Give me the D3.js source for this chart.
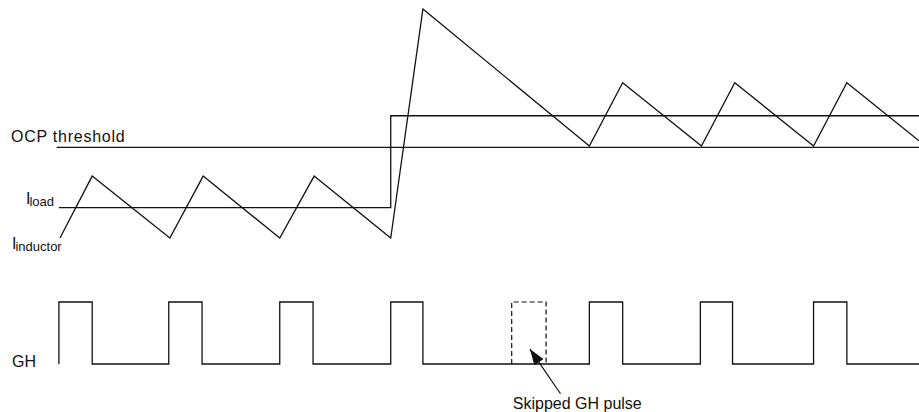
<!DOCTYPE html>
<html>
<head>
<meta charset="utf-8">
<script src="https://cdn.jsdelivr.net/npm/d3@7"></script>
<style>
  html, body { margin: 0; padding: 0; background: #fff; }
  svg { display: block; font-family: "Liberation Sans", Arial, Helvetica, sans-serif; }
</style>
</head>
<body>
<div id="chart"></div>
<script>
// time in us, current in A, GH as logic level
const inductorT = [0, 0.29, 0.99, 1.29, 1.98, 2.29, 2.98, 3.27, 4.77, 5.07, 5.78, 6.08, 6.79, 7.09, 7.74];
const inductorI = [4, 6, 4, 6, 4, 6, 4, 11.4, 6.97, 9.02, 6.97, 9.02, 6.97, 9.02, 7.14];

const loadT = [-0.01, 2.98, 2.98, 7.74];
const loadI = [4.98, 4.98, 7.95, 7.95];

const ocpT = [-0.03, 7.74];
const ocpLevel = 6.93;

const ghRise = [-0.01, 0.98, 1.98, 2.98, 4.77, 5.77, 6.79];
const ghFall = [0.29, 1.28, 2.28, 3.27, 5.07, 6.06, 7.09];
const ghEnd = 7.74;
const skippedPulse = [4.07, 4.38];

const width = 919, height = 412;

const svg = d3.select('#chart').append('svg')
  .attr('width', width)
  .attr('height', height);

const x = d3.scaleLinear().domain([0, 7.74]).range([60, 919]);
const yI = d3.scaleLinear().domain([4, 11.4]).range([238, 9]);
const yGH = d3.scaleLinear().domain([0, 1]).range([364, 302]);

const ink = '#111';
const line = d3.line().x(d => x(d[0])).y(d => d[1]);

// OCP threshold
svg.append('path')
  .attr('d', line(ocpT.map(t => [t, yI(ocpLevel)])))
  .attr('fill', 'none').attr('stroke', ink).attr('stroke-width', 1.3);

// Load current step
svg.append('path')
  .attr('d', line(loadT.map((t, i) => [t, yI(loadI[i])])))
  .attr('fill', 'none').attr('stroke', ink).attr('stroke-width', 1.3);

// Inductor current
svg.append('path')
  .attr('d', line(inductorT.map((t, i) => [t, yI(inductorI[i])])))
  .attr('fill', 'none').attr('stroke', ink).attr('stroke-width', 1.3)
  .attr('stroke-linejoin', 'miter');

// GH gate signal
const ghPts = [];
ghRise.forEach((r, i) => {
  ghPts.push([r, yGH(0)], [r, yGH(1)], [ghFall[i], yGH(1)], [ghFall[i], yGH(0)]);
});
ghPts.push([ghEnd, yGH(0)]);
svg.append('path')
  .attr('d', line(ghPts))
  .attr('fill', 'none').attr('stroke', ink).attr('stroke-width', 1.3);

// Skipped pulse (dashed)
svg.append('path')
  .attr('d', line([
    [skippedPulse[0], yGH(0)], [skippedPulse[0], yGH(1)],
    [skippedPulse[1], yGH(1)], [skippedPulse[1], yGH(0)]
  ]))
  .attr('fill', 'none').attr('stroke', ink).attr('stroke-width', 1.2)
  .attr('stroke-dasharray', '5,3');

// Arrow
svg.append('defs').append('marker')
  .attr('id', 'arrow')
  .attr('viewBox', '0 0 10 10')
  .attr('preserveAspectRatio', 'none')
  .attr('refX', 10).attr('refY', 5)
  .attr('markerWidth', 16).attr('markerHeight', 11)
  .attr('markerUnits', 'userSpaceOnUse')
  .attr('orient', 'auto')
  .append('path')
  .attr('d', 'M0,0L10,5L0,10Z')
  .attr('fill', ink);

svg.append('line')
  .attr('x1', x(4.51)).attr('y1', yGH(-0.48))
  .attr('x2', x(4.234)).attr('y2', yGH(0.24))
  .attr('stroke', ink).attr('stroke-width', 1.2)
  .attr('marker-end', 'url(#arrow)');

// Labels
const txt = (xx, yy, s, size) => svg.append('text')
  .attr('x', xx).attr('y', yy)
  .attr('font-size', size + 'px')
  .attr('fill', ink)
  .text(s);

txt(11, 141.5, 'OCP threshold', 16).attr('letter-spacing', '0.75px');
txt(12, 366.5, 'GH', 16);
txt(x(4.08), 409, 'Skipped GH pulse', 16);

const iload = svg.append('text').attr('x', 26).attr('y', 204)
  .attr('font-size', '16px').attr('fill', ink);
iload.append('tspan').text('I');
iload.append('tspan').attr('font-size', '13px').attr('dy', 2).attr('dx', -1).text('load');

const iind = svg.append('text').attr('x', 12).attr('y', 249)
  .attr('font-size', '16px').attr('fill', ink);
iind.append('tspan').text('I');
iind.append('tspan').attr('font-size', '13px').attr('dy', 1.5).attr('dx', -1).text('inductor');
</script>
</body>
</html>
